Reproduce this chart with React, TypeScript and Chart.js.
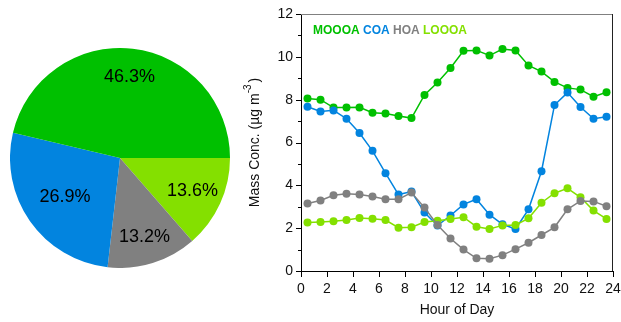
import React, { useEffect, useRef } from "react";
import { Chart, registerables } from "chart.js";

Chart.register(...registerables);

const FONT = "'Liberation Sans', Arial, Helvetica, sans-serif";

// PMF factors, in legend order
const factorNames = ["MOOOA", "COA", "HOA", "LOOOA"];
const factorColors = ["#00C000", "#0284DF", "#808080", "#84E000"];
// Mean contribution of each factor to the organic aerosol (%)
const factorShares = [46.3, 26.9, 13.2, 13.6];

// Hour of day (bin centres)
const hours = [
  0.5, 1.5, 2.5, 3.5, 4.5, 5.5, 6.5, 7.5, 8.5, 9.5, 10.5, 11.5,
  12.5, 13.5, 14.5, 15.5, 16.5, 17.5, 18.5, 19.5, 20.5, 21.5, 22.5, 23.5,
];

// Diurnal mass concentrations (µg m-3)
const moooa = [
  8.05, 8.0, 7.63, 7.63, 7.64, 7.39, 7.35, 7.24, 7.14, 8.22, 8.8, 9.48,
  10.28, 10.3, 10.06, 10.36, 10.3, 9.6, 9.31, 8.83, 8.55, 8.47, 8.14, 8.35,
];
const coa = [
  7.67, 7.45, 7.5, 7.11, 6.44, 5.61, 4.57, 3.57, 3.71, 2.73, 2.12, 2.59,
  3.11, 3.35, 2.63, 2.18, 1.96, 2.88, 4.66, 7.75, 8.33, 7.66, 7.11, 7.2,
];
const hoa = [
  3.15, 3.29, 3.54, 3.61, 3.57, 3.48, 3.35, 3.35, 3.66, 2.96, 2.15, 1.52,
  1.0, 0.59, 0.57, 0.74, 1.02, 1.32, 1.68, 2.04, 2.88, 3.27, 3.25, 3.02,
];
const loooa = [
  2.27, 2.29, 2.32, 2.38, 2.47, 2.44, 2.38, 2.02, 2.04, 2.29, 2.35, 2.43,
  2.51, 2.07, 1.96, 2.13, 2.15, 2.46, 3.19, 3.63, 3.86, 3.44, 2.82, 2.43,
];

const seriesValues = [moooa, coa, hoa, loooa];

// Axis tick values
const xTickStep = 2;
const yTickStep = 2;

// Radial position of each percentage label, as a fraction of the radius
const pieLabelRadius: Record<string, number> = {
  MOOOA: 0.74,
  COA: 0.61,
  HOA: 0.75,
  LOOOA: 0.725,
};

const pieLabelPlugin = {
  id: "pieLabels",
  afterDatasetsDraw(chart: any) {
    const meta = chart.getDatasetMeta(0);
    const ds = chart.data.datasets[0];
    const ctx = chart.ctx;
    ctx.save();
    ctx.font = `18px ${FONT}`;
    ctx.fillStyle = "#000";
    ctx.textAlign = "center";
    ctx.textBaseline = "middle";
    meta.data.forEach((arc: any, i: number) => {
      const p = arc.getProps(["x", "y", "startAngle", "endAngle", "outerRadius"], true);
      const mid = (p.startAngle + p.endAngle) / 2;
      const name = chart.data.labels[i];
      const f = pieLabelRadius[name] ?? 0.73;
      const r = p.outerRadius * f;
      ctx.fillText(`${ds.data[i].toFixed(1)}%`, p.x + Math.cos(mid) * r, p.y + Math.sin(mid) * r);
    });
    ctx.restore();
  },
};

const framePlugin = {
  id: "frame",
  afterDraw(chart: any) {
    const ctx = chart.ctx;
    const { left, right, top, bottom } = chart.chartArea;
    const xs = chart.scales.x;
    const ys = chart.scales.y;
    ctx.save();

    // top and right frame lines
    ctx.lineWidth = 1;
    ctx.strokeStyle = "#808080";
    ctx.beginPath();
    ctx.moveTo(left, top + 0.5);
    ctx.lineTo(right, top + 0.5);
    ctx.stroke();
    ctx.strokeStyle = "#222";
    ctx.beginPath();
    ctx.moveTo(right - 0.5, top);
    ctx.lineTo(right - 0.5, bottom);
    ctx.stroke();

    // outward tick marks
    ctx.strokeStyle = "#000";
    ctx.beginPath();
    for (let v = ys.min; v <= ys.max; v += 1) {
      const y = Math.round(ys.getPixelForValue(v)) + 0.5;
      const len = v % yTickStep === 0 ? 5 : 3;
      ctx.moveTo(left, y);
      ctx.lineTo(left - len, y);
    }
    for (let v = xs.min; v <= xs.max; v += xTickStep) {
      const x = Math.round(xs.getPixelForValue(v)) + 0.5;
      ctx.moveTo(x, bottom);
      ctx.lineTo(x, bottom + 6);
    }
    ctx.stroke();

    // axis titles
    ctx.fillStyle = "#111";
    ctx.font = `14px ${FONT}`;
    ctx.textAlign = "center";
    ctx.textBaseline = "middle";
    ctx.fillText("Hour of Day", (left + right) / 2, 310);

    ctx.save();
    ctx.translate(15, (top + bottom) / 2);
    ctx.rotate(-Math.PI / 2);
    const main = "Mass Conc. (µg m";
    const sup = "-3";
    const tail = ")";
    ctx.font = `14px ${FONT}`;
    const wMain = ctx.measureText(main).width;
    const wTail = ctx.measureText(tail).width;
    ctx.font = `10px ${FONT}`;
    const wSup = ctx.measureText(sup).width;
    let x0 = -(wMain + wSup + 2 + wTail) / 2;
    ctx.textAlign = "left";
    ctx.font = `14px ${FONT}`;
    ctx.fillText(main, x0, 0);
    x0 += wMain;
    ctx.font = `10px ${FONT}`;
    ctx.fillText(sup, x0, -7);
    x0 += wSup + 2;
    ctx.font = `14px ${FONT}`;
    ctx.fillText(tail, x0, 0);
    ctx.restore();

    // coloured series key
    ctx.font = `bold 12px ${FONT}`;
    ctx.textAlign = "left";
    ctx.textBaseline = "middle";
    let lx = left + 12;
    const space = ctx.measureText(" ").width;
    factorNames.forEach((name, i) => {
      ctx.fillStyle = factorColors[i];
      ctx.fillText(name, lx, 31);
      lx += ctx.measureText(name).width + space;
    });

    ctx.restore();
  },
};

export default function App() {
  const pieRef = useRef<HTMLCanvasElement>(null);
  const lineRef = useRef<HTMLCanvasElement>(null);

  useEffect(() => {
    // counter-clockwise from 3 o'clock: feed the slices in reverse, drawn clockwise
    const pieLabels = [...factorNames].reverse();
    const pieData = [...factorShares].reverse();
    const pieColors = [...factorColors].reverse();

    const pie = new Chart(pieRef.current!, {
      type: "pie",
      data: {
        labels: pieLabels,
        datasets: [
          {
            data: pieData,
            backgroundColor: pieColors,
            borderWidth: 0,
          },
        ],
      },
      options: {
        responsive: false,
        animation: false,
        rotation: 90,
        layout: { padding: 0 },
        plugins: { legend: { display: false }, tooltip: { enabled: false } },
      },
      plugins: [pieLabelPlugin],
    });

    const drawOrder = [3, 2, 0, 1];
    const line = new Chart(lineRef.current!, {
      type: "line",
      data: {
        datasets: factorNames.map((name, i) => ({
          label: name,
          data: hours.map((h, k) => ({ x: h, y: seriesValues[i][k] })),
          borderColor: factorColors[i],
          backgroundColor: factorColors[i],
          borderWidth: 1.5,
          pointRadius: 4,
          pointBorderWidth: 0,
          pointBackgroundColor: factorColors[i],
          tension: 0,
          order: drawOrder[i],
        })),
      },
      options: {
        responsive: false,
        animation: false,
        layout: { padding: { top: 14, right: 8, left: 0, bottom: 0 } },
        plugins: { legend: { display: false }, tooltip: { enabled: false } },
        scales: {
          x: {
            type: "linear",
            min: 0,
            max: 24,
            ticks: {
              stepSize: xTickStep,
              autoSkip: false,
              maxRotation: 0,
              padding: 10,
              color: "#111",
              font: { family: FONT, size: 14 },
            },
            grid: { display: true, drawOnChartArea: false, drawTicks: false },
            border: { display: true, color: "#000", width: 1 },
            afterFit(s: any) {
              s.height = 51;
              s.paddingLeft = 0;
              s.paddingRight = 0;
            },
          },
          y: {
            type: "linear",
            min: 0,
            max: 12,
            ticks: {
              stepSize: yTickStep,
              padding: 8,
              color: "#111",
              font: { family: FONT, size: 14 },
            },
            grid: { display: true, drawOnChartArea: false, drawTicks: false },
            border: { display: true, color: "#000", width: 1 },
            afterFit(s: any) {
              s.width = 61;
              s.paddingTop = 0;
              s.paddingBottom = 0;
            },
          },
        },
      },
      plugins: [framePlugin],
    });

    return () => {
      pie.destroy();
      line.destroy();
    };
  }, []);

  return (
    <div style={{ position: "fixed", left: 0, top: 0, width: 621, height: 322, background: "#fff" }}>
      <canvas
        ref={pieRef}
        width={220}
        height={220}
        style={{ position: "absolute", left: 10, top: 48, width: 220, height: 220 }}
      />
      <canvas
        ref={lineRef}
        width={381}
        height={322}
        style={{ position: "absolute", left: 240, top: 0, width: 381, height: 322 }}
      />
    </div>
  );
}
